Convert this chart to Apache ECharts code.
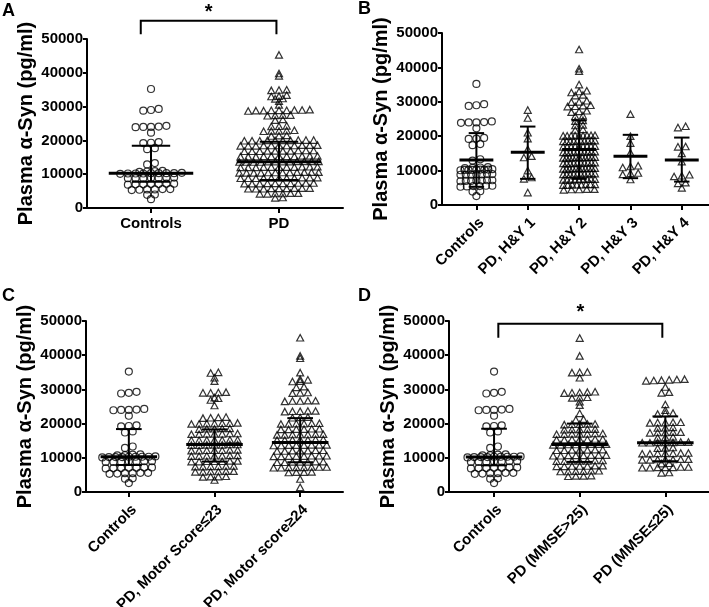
<!DOCTYPE html>
<html>
<head>
<meta charset="UTF-8">
<title>Plasma α-Syn</title>
<script src="https://cdn.jsdelivr.net/npm/echarts@6/dist/echarts.min.js"></script>
<style>
html, body { margin: 0; padding: 0; background: #fff; }
#main { width: 709px; height: 607px; }
</style>
</head>
<body>
<div id="main"></div>
<script>
// categories per panel
var catsA = ['Controls', 'PD'];
var catsB = ['Controls', 'PD, H&Y 1', 'PD, H&Y 2', 'PD, H&Y 3', 'PD, H&Y 4'];
var catsC = ['Controls', 'PD, Motor Score≤23', 'PD, Motor score≥24'];
var catsD = ['Controls', 'PD (MMSE>25)', 'PD (MMSE≤25)'];
var yTicks = [0, 10000, 20000, 30000, 40000, 50000];

// plasma alpha-syn values (pg/ml)
var controls = [35200, 29300, 29000, 28800, 24300, 24000, 24100, 23900, 24000, 22300,
  19500, 19300, 19200, 17700, 17400, 13300, 12900, 11000, 10900, 10800, 10700,
  10300, 10300, 10200, 10200, 10300, 10400, 10200, 10300, 10100,
  9000, 8900, 8800, 8800, 8900, 9000, 8800, 7200, 7100, 7000, 7100, 7000, 7200, 6900,
  5600, 5500, 5500, 5400, 5600, 5300, 4000, 3900, 2600];

var pdAll = [45300, 39800, 39100, 34900, 35000, 34800, 33000, 33100, 33400, 32300, 32400, 31600, 30500,
  28900, 29000, 28800, 28900, 29100, 28700, 28900, 29000, 28800,
  27300, 27500, 27400, 27500, 26000, 26200, 24100, 24300, 24200,
  22700, 22900, 22800, 23000, 22800, 21300, 21400, 21500,
  20000, 20100, 19900, 20000, 20100, 19900, 20000, 20100, 19900, 20000,
  18500, 18600, 18400, 18500, 18600, 18400, 18500, 18600, 18400, 18500, 18500,
  16900, 17000, 16800, 16900, 17000, 16800, 16900, 17000, 16800, 16900,
  15300, 15400, 15200, 15300, 15400, 15200, 15300, 15400, 15200, 15300, 15300,
  13700, 13800, 13600, 13700, 13800, 13600, 13700, 13800, 13600, 13700, 13800, 13600,
  12100, 12200, 12000, 12100, 12200, 12000, 12100, 12200, 12000, 12100, 12100,
  10500, 10600, 10400, 10500, 10600, 10400, 10500, 10600, 10400, 10500, 10600, 10400,
  8900, 9000, 8800, 8900, 9000, 8800, 8900, 9000, 8800, 8900, 8900,
  7300, 7400, 7200, 7300, 7400, 7200, 7300, 7400, 7200, 7300,
  5800, 5900, 5700, 5800, 5900, 5700, 5800, 5900, 5700,
  4300, 4400, 4200, 4300, 4400, 4200, 3000, 3100];

var hy1 = [27600, 25300, 21000, 19300, 16200, 14200, 13800, 10000, 8000, 7600, 3600];
var hy2 = [45200, 39600, 38900, 35000, 32700, 33000, 33200, 31800, 32000,
  29900, 30000, 30300, 28600, 28700, 28900, 29000, 27000, 27200, 27400,
  25800, 26000, 24400, 24600, 23100, 23300, 21800, 22000,
  20200, 20300, 20100, 20200, 20300, 20100, 20200, 20300, 20100,
  18600, 18700, 18500, 18600, 18700, 18500, 18600, 18700, 18500, 18600,
  17000, 17100, 16900, 17000, 17100, 16900, 17000, 17100, 16900,
  15400, 15500, 15300, 15400, 15500, 15300, 15400, 15500, 15300, 15400,
  13800, 13900, 13700, 13800, 13900, 13700, 13800, 13900, 13700, 13800, 13800,
  12200, 12300, 12100, 12200, 12300, 12100, 12200, 12300, 12100, 12200,
  10600, 10700, 10500, 10600, 10700, 10500, 10600, 10700, 10500, 10600, 10600,
  9000, 9100, 8900, 9000, 9100, 8900, 9000, 9100, 8900, 9000,
  7400, 7500, 7300, 7400, 7500, 7300, 7400, 7500, 7300,
  5900, 6000, 5800, 5900, 6000, 5800, 5900, 6000,
  4500, 4600, 4400, 4500, 4600];
var hy3 = [26400, 20000, 18000, 15200, 11400, 11200, 10900, 9300, 9200, 8900, 7400];
var hy4 = [22900, 22500, 17000, 16900, 15000, 12600, 8800, 8500, 8300, 6500, 6300, 5000];

var motorLow = [35000, 34800, 33400, 32400, 29000, 29000, 29100, 29200, 27400, 27600, 26900, 25300,
  21600, 21700, 21800, 21900,
  20000, 20100, 19900, 20000, 20200, 20100, 19900,
  18500, 18600, 18400, 18500, 18600,
  17000, 17100, 16900, 17000, 17100, 16900, 17000,
  15200, 15300, 15100, 15200, 15300, 15100, 15200,
  13800, 13900, 13700, 13800, 13900, 13700, 13800,
  12200, 12300, 12100, 12200, 12300, 12100, 12200,
  10600, 10700, 10500, 10600, 10700, 10500, 10600,
  9000, 9100, 8900, 9000, 9100, 8900, 9000,
  7500, 7600, 7400, 7500, 7600, 7400,
  6000, 6100, 5900, 6000, 6100, 5900,
  4400, 4500, 4600, 4500, 3500];
var motorHigh = [45100, 39800, 39100, 34900, 33000, 32800, 32400, 32300, 30800, 30600,
  29000, 29100, 28900, 26600, 26700, 26500, 26600, 26700,
  23600, 23700, 23500, 23600, 23700, 21800, 21900, 21700,
  20000, 20100, 19900, 20000, 20100, 19900,
  18400, 18500, 18300, 18400, 18500, 18300,
  16800, 16900, 16700, 16800, 16900, 16700, 16800,
  15300, 15400, 15200, 15300, 15400, 15200, 15300,
  13700, 13800, 13600, 13700, 13800, 13600, 13700, 13800,
  12100, 12200, 12000, 12100, 12200, 12000, 12100,
  10500, 10600, 10400, 10500, 10600, 10400, 10500, 10600,
  8800, 8900, 8700, 8800, 8900, 8700, 8800,
  7200, 7300, 7100, 7200, 7300, 7100, 7200, 7300,
  5800, 5900, 5700, 5800, 3800, 1400];

var mmseHigh = [45000, 39800, 35000, 34900, 35100, 33400, 28900, 29000, 29100, 29200, 29300,
  27500, 27600, 27700, 26400, 25400, 23000, 21100, 21300,
  19800, 19900, 19700, 19800, 19900,
  18300, 18400, 18200, 18300, 18400,
  17000, 17100, 16900, 17000, 17100, 16900, 17000,
  15400, 15500, 15300, 15400, 15500, 15300, 15400,
  13900, 14000, 13800, 13900, 14000, 13800, 13900, 14000,
  12300, 12400, 12200, 12300, 12400, 12200, 12300,
  10700, 10800, 10600, 10700, 10800, 10600, 10700, 10800,
  9100, 9200, 9000, 9100, 9200, 9000, 9100,
  7600, 7700, 7500, 7600, 7700, 7500, 7600,
  6100, 6200, 6000, 6100, 6200, 6000,
  4700, 4800, 4600, 4700];
var mmseLow = [32500, 32600, 32700, 32800, 32900, 33000, 30700, 29000, 29200, 25600, 23900,
  22800, 23000, 23100,
  20300, 20400, 20200, 20300, 20400,
  18800, 18900, 18700,
  17400, 17500, 17300, 17400, 17500,
  16000, 16100, 15900,
  14500, 14600, 14400, 14500, 14600, 14400, 14500,
  12900, 13000, 12800,
  11300, 11400, 11200, 11300, 11400, 11200, 11300,
  9500, 9600, 9400, 9500, 9600, 9400, 9500,
  8300, 8400,
  7200, 7300, 7100, 7200, 7300, 7100, 7200,
  5600, 5700];

// centre line and whiskers per group: [centre, low, high]
var barsA = [[10300, 7800, 18400], [13700, 8300, 19600]];
var barsB = [[13100, 5300, 20900], [15300, 7600, 22800], [16100, 7600, 24600], [14200, 7800, 20400], [13100, 6800, 19600]];
var barsC = [[10300, 7900, 18400], [13900, 8900, 18300], [14500, 8700, 21600]];
var barsD = [[10200, 7800, 18500], [13900, 8800, 20000], [14400, 9000, 22100]];

// significance brackets: [x0, x1, top, foot, starY]
var bracketA = [[-0.08, 0.98, 55400, 51400, 57800]];
var bracketD = [[0.05, 1.965, 49200, 45100, 52600]];

var FONT = '"Liberation Sans", Arial, Helvetica, sans-serif';
var yMin = yTicks[0], yMax = yTicks[yTicks.length - 1], yStep = yTicks[1] - yTicks[0];

// plot boxes
var grids = [
    {left: 87, top: 39, width: 256, height: 169, xmin: -0.5, xmax: 1.5},
    {left: 442, top: 33, width: 267, height: 172, xmin: -0.67, xmax: 4.53},
    {left: 86, top: 321, width: 257, height: 171, xmin: -0.5, xmax: 2.5},
    {left: 449, top: 321, width: 260, height: 171, xmin: -0.526, xmax: 2.51}
];

// GraphPad style column scatter: bin values into rows, spread each row around the column
function swarm(values, idx, g) {
    var pxX = g.width / (g.xmax - g.xmin);
    var maxHalf = 0.31 * pxX;
    var sorted = values.slice().sort(function (a, b) { return a - b; });
    var rows = [], row = null;
    sorted.forEach(function (v) {
        if (!row || v - row[0] > 500) { row = [v]; rows.push(row); }
        else row.push(v);
    });
    var pts = [];
    rows.forEach(function (r) {
        var n = r.length;
        var s = n > 1 ? Math.min(7.7, 2 * maxHalf / (n - 1)) : 0;
        r.forEach(function (v, k) {
            pts.push([idx + (k - (n - 1) / 2) * s / pxX, v]);
        });
    });
    return pts;
}

function renderBars(params, api) {
    var x = api.value(0);
    var pc = api.coord([x, api.value(1)]);
    var pl = api.coord([x, api.value(2)]);
    var ph = api.coord([x, api.value(3)]);
    var unit = api.size([1, 0])[0];
    var hm = unit * 0.33, hc = unit * 0.15;
    var st = {stroke: '#000', lineWidth: 2};
    return {
        type: 'group',
        children: [
            {type: 'line', shape: {x1: pl[0], y1: pl[1], x2: ph[0], y2: ph[1]}, style: st},
            {type: 'line', shape: {x1: pl[0] - hc, y1: pl[1], x2: pl[0] + hc, y2: pl[1]}, style: st},
            {type: 'line', shape: {x1: ph[0] - hc, y1: ph[1], x2: ph[0] + hc, y2: ph[1]}, style: st},
            {type: 'line', shape: {x1: pc[0] - hm, y1: pc[1], x2: pc[0] + hm, y2: pc[1]}, style: {stroke: '#000', lineWidth: 3}}
        ]
    };
}

function renderBracket(params, api) {
    var a = api.coord([api.value(0), api.value(3)]);
    var b = api.coord([api.value(0), api.value(2)]);
    var c = api.coord([api.value(1), api.value(2)]);
    var d = api.coord([api.value(1), api.value(3)]);
    var s = api.coord([(api.value(0) + api.value(1)) / 2, api.value(4)]);
    return {
        type: 'group',
        children: [
            {type: 'polyline', shape: {points: [a, b, c, d]}, style: {stroke: '#000', lineWidth: 2, fill: null}},
            {type: 'text', x: s[0], y: s[1], style: {text: '*', font: 'bold 20px ' + FONT, fill: '#000', align: 'center', verticalAlign: 'middle'}}
        ]
    };
}

function makeX(gi, cats, rotate) {
    var g = grids[gi];
    var ticks = cats.map(function (c, i) { return i; });
    var label = {
        customValues: ticks, rotate: rotate, margin: rotate ? 10 : 8,
        formatter: function (v) { return cats[Math.round(v)]; },
        fontSize: 15, fontWeight: 'bold', color: '#000', fontFamily: FONT
    };
    if (rotate) label.verticalAlign = 'top';
    return {
        gridIndex: gi, type: 'value', min: g.xmin, max: g.xmax,
        axisLine: {show: true, onZero: false, lineStyle: {color: '#000', width: 2}},
        axisTick: {show: true, length: 5, customValues: ticks, lineStyle: {color: '#000', width: 2}},
        axisLabel: label,
        splitLine: {show: false}
    };
}

function makeY(gi) {
    return {
        gridIndex: gi, type: 'value', min: yMin, max: yMax, interval: yStep,
        name: 'Plasma α-Syn (pg/ml)', nameLocation: 'middle', nameGap: 51,
        nameTextStyle: {fontSize: 20, fontWeight: 'bold', color: '#000', fontFamily: FONT},
        axisLine: {show: true, onZero: false, lineStyle: {color: '#000', width: 2}},
        axisTick: {show: true, length: 4, lineStyle: {color: '#000', width: 2}},
        axisLabel: {
            margin: 4, formatter: function (v) { return String(v); },
            fontSize: 15, fontWeight: 'bold', color: '#000', fontFamily: FONT
        },
        splitLine: {show: false}
    };
}

function dots(gi, idx, values, symbol) {
    return {
        type: 'scatter', xAxisIndex: gi, yAxisIndex: gi, silent: true, z: 2,
        data: swarm(values, idx, grids[gi]),
        symbol: symbol, symbolSize: symbol === 'circle' ? 7 : [7, 6.5],
        itemStyle: {color: 'rgba(0,0,0,0)', borderColor: '#000', borderWidth: 1.2}
    };
}

function bars(gi, list) {
    return {
        type: 'custom', xAxisIndex: gi, yAxisIndex: gi, silent: true, z: 5,
        renderItem: renderBars, encode: {x: 0, y: [1, 2, 3]},
        data: list.map(function (b, i) { return [i, b[0], b[1], b[2]]; })
    };
}

function bracket(gi, list) {
    return {
        type: 'custom', xAxisIndex: gi, yAxisIndex: gi, silent: true, z: 5, clip: false,
        renderItem: renderBracket, encode: {x: [0, 1], y: [2, 3]},
        data: list
    };
}

var myChart = echarts.init(document.getElementById('main'));
var option = {
    animation: false,
    backgroundColor: '#fff',
    grid: grids.map(function (g) {
        return {left: g.left, top: g.top, width: g.width, height: g.height, containLabel: false, outerBoundsMode: 'none'};
    }),
    xAxis: [makeX(0, catsA, 0), makeX(1, catsB, 45), makeX(2, catsC, 45), makeX(3, catsD, 45)],
    yAxis: [makeY(0), makeY(1), makeY(2), makeY(3)],
    graphic: [
        {type: 'text', left: 2, top: 2, style: {text: 'A', font: 'bold 18px ' + FONT, fill: '#000'}},
        {type: 'text', left: 358, top: 0, style: {text: 'B', font: 'bold 18px ' + FONT, fill: '#000'}},
        {type: 'text', left: 2, top: 287, style: {text: 'C', font: 'bold 18px ' + FONT, fill: '#000'}},
        {type: 'text', left: 358, top: 287, style: {text: 'D', font: 'bold 18px ' + FONT, fill: '#000'}}
    ],
    series: [
        dots(0, 0, controls, 'circle'), dots(0, 1, pdAll, 'triangle'),
        bars(0, barsA), bracket(0, bracketA),
        dots(1, 0, controls, 'circle'), dots(1, 1, hy1, 'triangle'), dots(1, 2, hy2, 'triangle'),
        dots(1, 3, hy3, 'triangle'), dots(1, 4, hy4, 'triangle'),
        bars(1, barsB),
        dots(2, 0, controls, 'circle'), dots(2, 1, motorLow, 'triangle'), dots(2, 2, motorHigh, 'triangle'),
        bars(2, barsC),
        dots(3, 0, controls, 'circle'), dots(3, 1, mmseHigh, 'triangle'), dots(3, 2, mmseLow, 'triangle'),
        bars(3, barsD), bracket(3, bracketD)
    ]
};
myChart.setOption(option);
</script>
</body>
</html>
